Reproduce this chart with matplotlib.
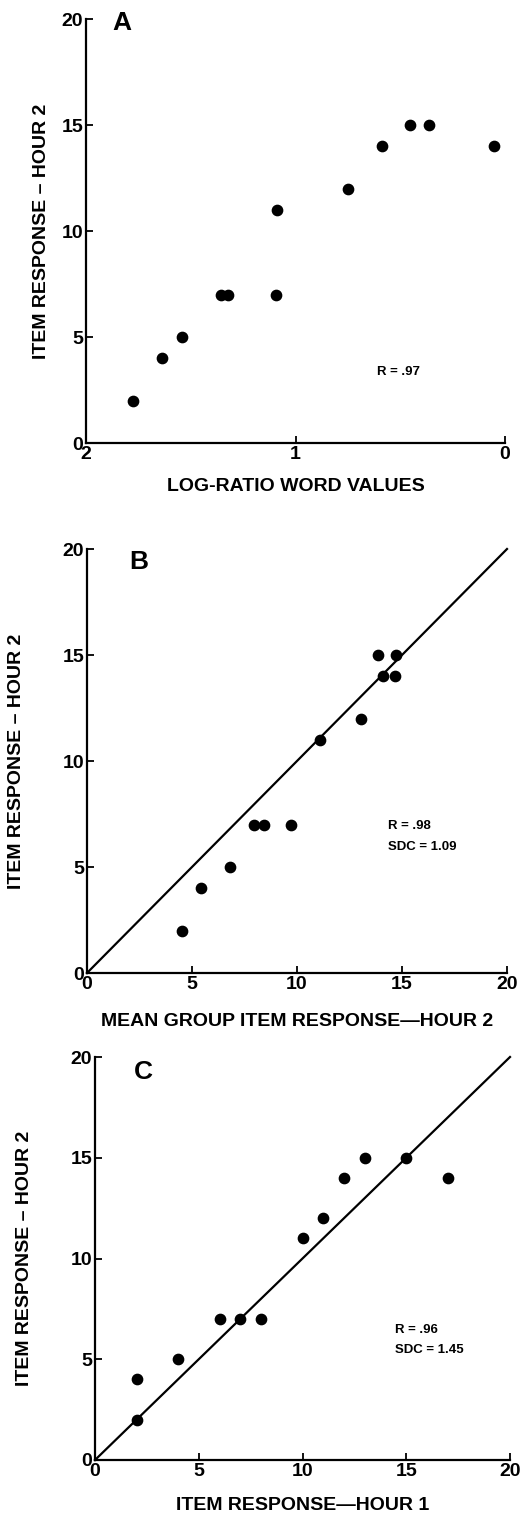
import matplotlib
matplotlib.use("Agg")
import matplotlib.pyplot as plt

plt.rcParams['font.family'] = ['Liberation Sans', 'DejaVu Sans']

# Panel A: log-ratio word values vs item response (hour 2)
a_x = [1.777, 1.639, 1.54, 1.357, 1.324, 1.093, 1.09, 0.748, 0.589, 0.453, 0.364, 0.054]
a_y = [2, 4, 5, 7, 7, 7, 11, 12, 14, 15, 15, 14]

# Panel B: mean group item response vs item response (hour 2)
b_x = [4.54, 5.43, 6.82, 7.93, 8.44, 9.71, 11.1, 13.06, 13.84, 14.09, 14.68, 14.73]
b_y = [2, 4, 5, 7, 7, 7, 11, 12, 15, 14, 14, 15]

# Panel C: item response hour 1 vs hour 2
c_x = [2, 2, 4, 6, 7, 8, 10, 11, 12, 13, 15, 17]
c_y = [4, 2, 5, 7, 7, 7, 11, 12, 14, 15, 15, 14]

ident = [0, 20]
yticks = [0, 5, 10, 15, 20]
xticks_a = [2, 1, 0]
xticks_bc = [0, 5, 10, 15, 20]

W, H = 526, 1540
fig = plt.figure(figsize=(W / 100, H / 100), dpi=100)


def make_axes(left, top, right, bottom):
    return fig.add_axes([left / W, 1 - bottom / H, (right - left) / W, (bottom - top) / H])


def style(ax):
    for s in ['top', 'right']:
        ax.spines[s].set_visible(False)
    for s in ['left', 'bottom']:
        ax.spines[s].set_linewidth(1.6)
    ax.tick_params(direction='in', length=5, width=1.3, pad=2,
                   labelsize=14)
    for lab in ax.get_xticklabels() + ax.get_yticklabels():
        lab.set_fontweight('bold')


ax_a = make_axes(86, 19, 505, 443)
ax_b = make_axes(87, 549, 507, 973)
ax_c = make_axes(95, 1057, 510, 1460)

note = dict(fontsize=9.5, fontweight='bold', va='center', ha='left')
letter = dict(fontsize=19, fontweight='bold', va='center', ha='left')
lab = dict(fontsize=14, fontweight='bold')

# A
ax_a.scatter(a_x, a_y, s=55, color='black', zorder=3, clip_on=False)
ax_a.set_xlim(2, 0)
ax_a.set_ylim(0, 20)
ax_a.set_xticks(xticks_a)
ax_a.set_yticks(yticks)
style(ax_a)
ax_a.text(1.873, 19.8, 'A', **letter)
ax_a.text(0.611, 3.35, 'R = .97', **note)
ax_a.set_xlabel('LOG-RATIO WORD VALUES', **lab)
ax_a.set_ylabel('ITEM RESPONSE – HOUR 2', **lab)
ax_a.xaxis.set_label_coords(0.5, -0.082)
ax_a.yaxis.set_label_coords(-0.086, 0.5)

# B
ax_b.plot(ident, ident, color='black', lw=1.6, clip_on=False)
ax_b.scatter(b_x, b_y, s=55, color='black', zorder=3, clip_on=False)
ax_b.set_xlim(0, 20)
ax_b.set_ylim(0, 20)
ax_b.set_xticks(xticks_bc)
ax_b.set_yticks(yticks)
style(ax_b)
ax_b.text(2.02, 19.4, 'B', **letter)
ax_b.text(14.35, 6.93, 'R = .98', **note)
ax_b.text(14.35, 5.95, 'SDC = 1.09', **note)
ax_b.set_xlabel('MEAN GROUP ITEM RESPONSE—HOUR 2', **lab)
ax_b.set_ylabel('ITEM RESPONSE – HOUR 2', **lab)
ax_b.xaxis.set_label_coords(0.5, -0.095)
ax_b.yaxis.set_label_coords(-0.148, 0.5)

# C
ax_c.plot(ident, ident, color='black', lw=1.6, clip_on=False)
ax_c.scatter(c_x, c_y, s=55, color='black', zorder=3, clip_on=False)
ax_c.set_xlim(0, 20)
ax_c.set_ylim(0, 20)
ax_c.set_xticks(xticks_bc)
ax_c.set_yticks(yticks)
style(ax_c)
ax_c.text(1.85, 19.25, 'C', **letter)
ax_c.text(14.46, 6.45, 'R = .96', **note)
ax_c.text(14.46, 5.45, 'SDC = 1.45', **note)
ax_c.set_xlabel('ITEM RESPONSE—HOUR 1', **lab)
ax_c.set_ylabel('ITEM RESPONSE – HOUR 2', **lab)
ax_c.xaxis.set_label_coords(0.5, -0.092)
ax_c.yaxis.set_label_coords(-0.149, 0.5)

fig.savefig('out.png', dpi=100)
